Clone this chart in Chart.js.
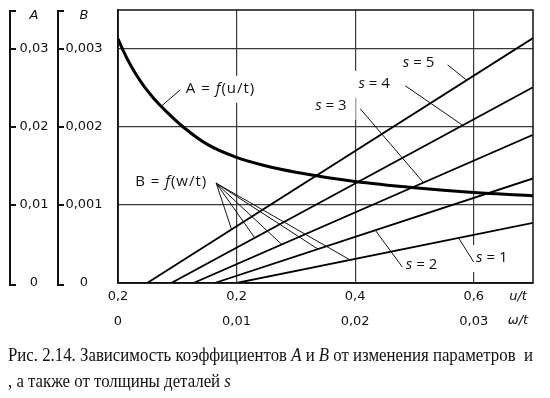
<!DOCTYPE html>
<html><head><meta charset="utf-8">
<script src="https://cdn.jsdelivr.net/npm/chart.js@4"></script>
<style>
html,body{margin:0;padding:0;background:#fff;width:550px;height:398px;overflow:hidden}
#c{position:absolute;left:0;top:0}
.cap{position:absolute;left:8px;font-family:'Liberation Serif',serif;font-size:19px;line-height:1;white-space:nowrap;color:#111;transform-origin:0 0}
</style></head><body>
<canvas id="c" width="550" height="398"></canvas>
<div class="cap" id="cap1" style="top:345px">Рис. 2.14. Зависимость коэффициентов <i>A</i> и <i>B</i> от изменения параметров&nbsp; и</div>
<div class="cap" id="cap2" style="top:371px">, а также от толщины деталей <i>s</i></div>
<script>
// ---- data ----
const uT    = [0, 0.01, 0.02, 0.03, 0.045, 0.06, 0.08, 0.11, 0.15, 0.2, 0.25, 0.3, 0.4, 0.5, 0.6, 0.7];
const coefA = [0.0313, 0.0296, 0.0281, 0.0268, 0.0251, 0.0237, 0.0221, 0.0200, 0.0178, 0.0161, 0.0150, 0.0142, 0.0130, 0.0122, 0.0116, 0.0112];
const sNames     = ['s = 1', 's = 2', 's = 3', 's = 4', 's = 5'];
const omegaStart = [0.0100, 0.00814, 0.00636, 0.00449, 0.00246];   // B = 0
const omegaEnd   = [0.035, 0.035, 0.035, 0.035, 0.035];
const bEnd       = [0.00077, 0.00134, 0.00190, 0.00251, 0.00314];
const uTicks = [0, 0.2, 0.4, 0.6];
const uTickLabels = ['0,2', '0,2', '0,4', '0,6'];
const wTickLabels = ['0', '0,01', '0,02', '0,03'];
const aTicks = [0, 0.01, 0.02, 0.03];
const aTickLabels = ['0', '0,01', '0,02', '0,03'];
const bTicks = [0, 0.001, 0.002, 0.003];
const bTickLabels = ['0', '0,001', '0,002', '0,003'];

// ---- annotations (data coordinates: u/t, A ; pointer targets: ω/t on B lines) ----
const fanOmega = [0.01958, 0.01686, 0.01381, 0.01153, 0.00958];   // s = 1 ... s = 5
const notes = [
  {segs:[['A = '],['f',1],['(u/t)']], at:[0.173,0.0249], sp:1, from:[0.105,0.02477], toA:0.073},
  {segs:[['B = '],['f',1],['(w/t)']], at:[0.0898,0.01302], sp:1},
  {segs:[['s',1],[' = 5']], at:[0.507,0.0282], from:[0.556,0.02796], line:4, w:0.02941},
  {segs:[['s',1],[' = 4']], at:[0.432,0.02553], from:[0.4847,0.02528], line:3, w:0.02907},
  {segs:[['s',1],[' = 3']], at:[0.359,0.02272], from:[0.4085,0.02234], line:2, w:0.02576},
  {segs:[['s',1],[' = 2']], at:[0.512,0.0023], from:[0.4797,0.00204], line:1, w:0.0217},
  {segs:[['s',1],[' = 1']], at:[0.6305,0.00319], from:[0.600,0.00268], line:0, w:0.02873}
];
const fanFrom = [0.1656, 0.0128];

function bAt(i, w){ return bEnd[i]*(w-omegaStart[i])/(omegaEnd[i]-omegaStart[i]); }
function aAt(u){ for(let i=0;i<uT.length-1;i++){ if(u>=uT[i]&&u<=uT[i+1]) return coefA[i]+(coefA[i+1]-coefA[i])*(u-uT[i])/(uT[i+1]-uT[i]); } return coefA[coefA.length-1]; }

const FONT_LBL = '"Open Sans", sans-serif';
function segFont(s){ return (s[1]?'italic ':'')+'15px '+FONT_LBL; }
function richWidth(ctx, segs){ let w=0; segs.forEach(s=>{ctx.font=segFont(s); w+=ctx.measureText(s[0]).width;}); return w; }
function drawRich(ctx, segs, cx, cy){
  const w=richWidth(ctx,segs); let x=cx-w/2;
  ctx.textBaseline='middle'; ctx.textAlign='left'; ctx.fillStyle='#111';
  segs.forEach(s=>{ctx.font=segFont(s); ctx.fillText(s[0],x,cy); x+=ctx.measureText(s[0]).width;});
  return w;
}

const datasets = [{
  label:'A = f(u/t)', data: uT.map((u,i)=>({x:u,y:coefA[i]})), xAxisID:'x', yAxisID:'y',
  borderColor:'#000', borderWidth:3, pointRadius:0, cubicInterpolationMode:'monotone', showLine:true, fill:false
}];
sNames.forEach((n,i)=>datasets.push({
  label:n, data:[{x:omegaStart[i],y:0},{x:omegaEnd[i],y:bEnd[i]}], xAxisID:'xw', yAxisID:'yB',
  borderColor:'#000', borderWidth:1.8, pointRadius:0, showLine:true, fill:false
}));

const boxesPlugin = {
  id:'boxes',
  beforeDatasetsDraw(chart){
    const ctx=chart.ctx, x=chart.scales.x, y=chart.scales.y;
    ctx.save(); ctx.fillStyle='#fff';
    notes.forEach(n=>{
      ctx.letterSpacing = n.sp ? '1px':'0px';
      const w=richWidth(ctx,n.segs); const cx=x.getPixelForValue(n.at[0]), cy=y.getPixelForValue(n.at[1]);
      ctx.fillRect(cx-w/2-9, cy-13, w+18, 27);
    });
    ctx.restore();
  },
  afterDraw(chart){
    const ctx=chart.ctx, a=chart.chartArea, x=chart.scales.x, y=chart.scales.y, xw=chart.scales.xw, yB=chart.scales.yB;
    ctx.save();
    // frame
    ctx.strokeStyle='#111'; ctx.lineWidth=1.5;
    ctx.strokeRect(a.left, a.top, a.right-a.left, a.bottom-a.top);
    // pointers
    ctx.lineWidth=1; ctx.strokeStyle='#111';
    notes.forEach(n=>{
      if(!n.from) return;
      const fx=x.getPixelForValue(n.from[0]), fy=y.getPixelForValue(n.from[1]);
      let tx,ty;
      if(n.toA!==undefined){ tx=x.getPixelForValue(n.toA); ty=y.getPixelForValue(aAt(n.toA)); }
      else { tx=xw.getPixelForValue(n.w); ty=yB.getPixelForValue(bAt(n.line,n.w)); }
      ctx.beginPath(); ctx.moveTo(fx,fy); ctx.lineTo(tx,ty); ctx.stroke();
    });
    const ox=x.getPixelForValue(fanFrom[0]), oy=y.getPixelForValue(fanFrom[1]);
    fanOmega.forEach((w,i)=>{
      ctx.beginPath(); ctx.moveTo(ox,oy); ctx.lineTo(xw.getPixelForValue(w), yB.getPixelForValue(bAt(i,w))); ctx.stroke();
    });
    // label texts
    notes.forEach(n=>{
      ctx.letterSpacing = n.sp ? '1px':'0px';
      drawRich(ctx, n.segs, x.getPixelForValue(n.at[0]), y.getPixelForValue(n.at[1]));
    });
    ctx.letterSpacing='0px';
    // left bracket axes
    function bracket(scale, xl, lx, ticks, labels, title){
      const top=a.top+1, bot=a.bottom+2;
      ctx.strokeStyle='#111'; ctx.lineWidth=2;
      ctx.beginPath(); ctx.moveTo(xl+6,top); ctx.lineTo(xl,top); ctx.lineTo(xl,bot); ctx.lineTo(xl+6,bot);
      ticks.forEach(v=>{ if(v===0) return; const py=scale.getPixelForValue(v); ctx.moveTo(xl,py); ctx.lineTo(xl+6,py); });
      ctx.stroke();
      ctx.fillStyle='#111'; ctx.textAlign='center'; ctx.textBaseline='middle';
      ctx.font='13px "DejaVu Sans"';
      ticks.forEach((v,i)=>ctx.fillText(labels[i], lx, scale.getPixelForValue(v)));
      ctx.font='italic 13px "DejaVu Sans"';
      ctx.fillText(title, lx, a.top+6);
    }
    bracket(y, 10, 34, aTicks, aTickLabels, 'A');
    bracket(yB, 58, 84, bTicks, bTickLabels, 'B');
    // x axis names
    ctx.font='italic 13px "DejaVu Sans"'; ctx.textAlign='center'; ctx.textBaseline='middle';
    ctx.fillText('u/t', 518, a.bottom+14);
    ctx.fillText('ω/t', 518, a.bottom+38);
    ctx.restore();
  }
};

new Chart(document.getElementById('c'), {
  type:'scatter',
  data:{datasets},
  options:{
    responsive:false, animation:false, events:[],
    layout:{padding:{left:118, top:10, right:17, bottom:65}},
    plugins:{legend:{display:false}, tooltip:{enabled:false}},
    scales:{
      x:{type:'linear', min:0, max:0.7, position:'bottom',
        afterBuildTicks:s=>{s.ticks=uTicks.map(v=>({value:v}));},
        afterFit:s=>{s.height=50;},
        grid:{color:'#3a3a3a', lineWidth:1.2, drawTicks:false},
        border:{color:'#111', width:1.5},
        ticks:{font:{family:'DejaVu Sans', size:13, lineHeight:1.92}, color:'#111', padding:1, maxRotation:0, autoSkip:false,
          callback:(v,i)=>[uTickLabels[i], wTickLabels[i]]}},
      y:{type:'linear', min:0, max:0.035, position:'left',
        afterBuildTicks:s=>{s.ticks=aTicks.map(v=>({value:v}));},
        afterFit:s=>{s.width=0;},
        ticks:{display:false},
        grid:{color:'#3a3a3a', lineWidth:1.2, drawTicks:false},
        border:{color:'#111', width:1.5}},
      xw:{type:'linear', min:0, max:0.035, display:false, position:'bottom'},
      yB:{type:'linear', min:0, max:0.0035, display:false, position:'left'}
    }
  },
  plugins:[boxesPlugin]
});

// caption fit to reference width
const c1=document.getElementById('cap1'), c2=document.getElementById('cap2');
const k=525/c1.getBoundingClientRect().width;
c1.style.transform='scaleX('+k+')'; c2.style.transform='scaleX('+k+')';
</script>
</body></html>
